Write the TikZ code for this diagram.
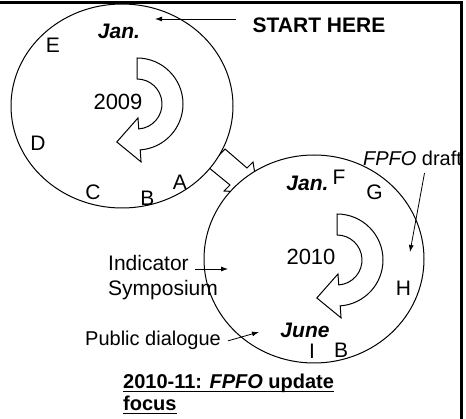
\documentclass[tikz,border=0pt]{standalone}
\usepackage{fontspec}
\setmainfont{Liberation Sans}
\usetikzlibrary{arrows.meta}
\newcommand{\undl}[1]{\setbox0\hbox{#1}\rlap{\rule[-3.2pt]{\wd0}{1.2pt}}\box0}

\tikzset{
    lbl/.style={inner sep=0pt, font=\fontsize{21}{25}\selectfont},
    month/.style={inner sep=0pt, font=\fontsize{21}{25}\selectfont\bfseries\itshape},
    ring/.style={draw, line width=1pt, fill=white, line join=miter},
    pointer/.style={line width=0.8pt, -{Latex[length=7pt,width=5pt]}}
}

\begin{document}
\begin{tikzpicture}[x=1pt,y=-1pt]
\useasboundingbox (0,0) rectangle (466,419);
\draw[line width=3pt] (0,2.5) -- (461.5,2.5) -- (461.5,419);
\draw[ring] (225,149) -- (247,168) -- (253,162) -- (258,193) -- (224,191) -- (230,185) -- (208,167) -- cycle;
\draw[ring] (122,106) ellipse [x radius=111, y radius=102];
\draw[ring] (314,259) ellipse [x radius=110, y radius=104];
\foreach \cx/\cy in {137/104, 337/260}{
    \draw[ring, shift={(\cx,\cy)}] (-90:46) arc[start angle=-90, end angle=86, radius=46]
        -- (86:58) -- (118:43) -- (86:14) -- (86:25)
        arc[start angle=86, end angle=-90, radius=25] -- cycle;
}
\foreach \t/\x/\y[count=\idx] in {
    E/53/45.5, D/38/143.5, C/93/192.5, B/147.5/198.5, A/180/182.5,
    F/339/177.5, G/374.5/192.5, H/403.5/288.5, I/312/351, B/341/350.5
}{
    \node[lbl] (m\idx) at (\x,\y) {\t};
}
\node[lbl, font=\fontsize{22}{25}\selectfont] (y2009) at (118,102) {2009};
\node[lbl, font=\fontsize{22}{25}\selectfont] (y2010) at (311,256.5) {2010};
\node[month] (jan1) at (119,31) {Jan.};
\node[month] (jan2) at (307.5,183.5) {Jan.};
\node[month] (june) at (305,330) {June};
\node[lbl, font=\fontsize{21}{25}\selectfont\bfseries] (start) at (319,25.5) {START HERE};
\node[lbl, font=\fontsize{20}{25}\selectfont] (fpfo) at (412.5,158.5) {\textit{FPFO} draft};
\node[lbl, align=left, anchor=north west] (indsym) at (108,255) {Indicator\\Symposium};
\node[lbl, anchor=base west, font=\fontsize{20}{25}\selectfont] (pubdia) at (85,346) {Public dialogue};
\node[lbl, align=left, anchor=north west, font=\fontsize{20}{22}\selectfont\bfseries] (focus) at (123,374)
    {\undl{2010-11: \textit{FPFO} update}\\\undl{focus}};
\coordinate (startpt) at (155,19);
\coordinate (sympt) at (228,269);
\coordinate (pubpt) at (259,332);
\coordinate (draftpt) at (410,252);
\draw[pointer] ([xshift=-16pt, yshift=6.5pt]start.west) -- (startpt);
\draw[pointer] ([xshift=87pt, yshift=-14pt]indsym.north west) -- (sympt);
\draw[pointer] ([xshift=7pt]pubdia.east) -- (pubpt);
\draw[pointer] ([xshift=12pt, yshift=-7pt]fpfo.south) -- (draftpt);
\end{tikzpicture}
\end{document}
